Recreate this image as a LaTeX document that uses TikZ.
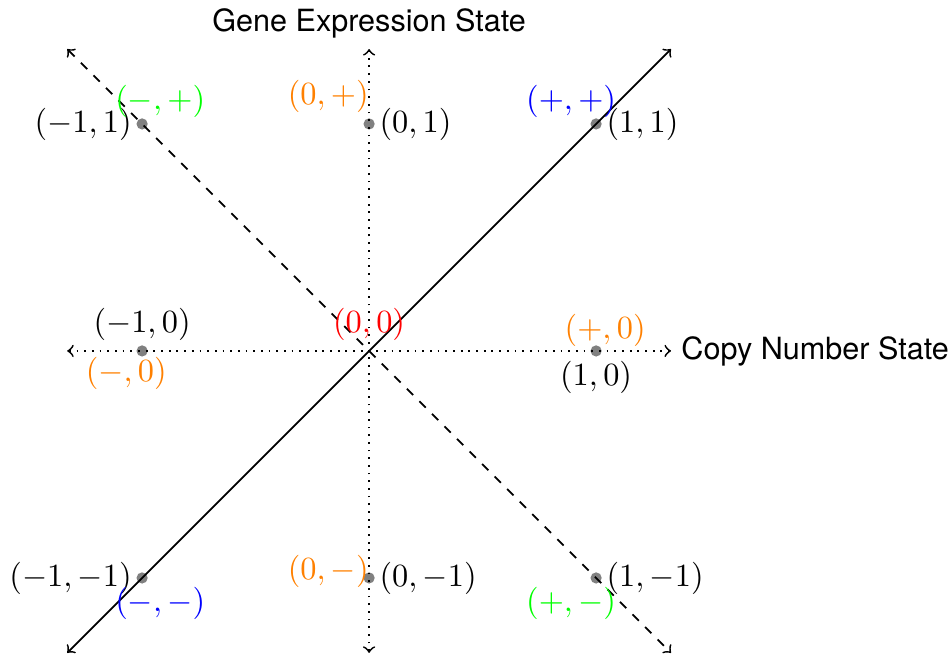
\documentclass[tikz,border=0pt]{standalone}
\usepackage{fontspec}
\newfontfamily\axisfont{TeX Gyre Heros}
\usetikzlibrary{positioning}

\begin{document}
\begin{tikzpicture}[
    x=2.7cm, y=2.7cm,
    state/.style={circle, fill=gray, inner sep=0pt, minimum size=3.8pt},
    axis/.style={<->, dotted, semithick},
    diag/.style={<->, semithick},
    axislabel/.style={font=\fontsize{10.35}{12}\axisfont},
    every node/.append style={font=\fontsize{10.7}{13}\selectfont}
]
    \useasboundingbox (-1.626,-1.352) rectangle (2.559,1.546);

    % states with their coordinates
    \foreach \x/\y/\pos in {-1/1/left, 0/1/right, 1/1/right, -1/0/above, 1/0/below, -1/-1/left, 0/-1/right, 1/-1/right}{
        \node[state] (p\x\y) at (\x,\y) {};
        \node[\pos] (c\x\y) at (\x,\y) {$(\x,\y)$};
    }

    % axis and diagonal ends
    \coordinate (xl) at (-1.33,0);
    \coordinate (xr) at (1.33,0);
    \coordinate (yb) at (0,-1.33);
    \coordinate (yt) at (0,1.33);
    \coordinate (dl) at (-1.33,-1.33);
    \coordinate (dr) at (1.33,1.33);
    \coordinate (al) at (-1.33,1.33);
    \coordinate (ar) at (1.33,-1.33);

    \draw[axis] (xl) -- (xr);
    \draw[axis] (yb) -- (yt);
    \draw[diag] (dl) -- (dr);
    \draw[diag, dashed] (al) -- (ar);

    \node[axislabel, right] (cn) at (xr) {Copy Number State};
    \node[axislabel, above] (ge) at (yt) {Gene Expression State};

    % sign labels
    \foreach \x/\y/\txt/\col in {-0.92/1.1/{-,+}/green, -0.18/1.12/{0,+}/orange, 0.89/1.1/{+,+}/blue,
        0/0.115/{0,0}/red, -1.07/-0.1/{-,0}/orange, 1.04/0.09/{+,0}/orange,
        -0.92/-1.11/{-,-}/blue, -0.18/-0.97/{0,-}/orange, 0.89/-1.11/{+,-}/green}{
        \node[text=\col] at (\x,\y) {$(\txt)$};
    }
\end{tikzpicture}
\end{document}
